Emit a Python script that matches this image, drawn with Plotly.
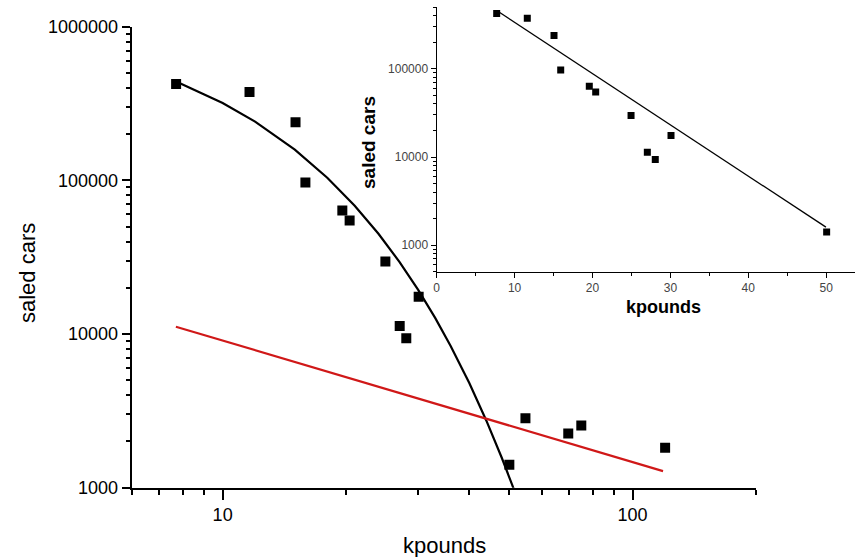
import math
import plotly.graph_objects as go

# ---- data ----
price_k = [7.70, 11.63, 15.06, 15.92, 19.59, 20.41, 24.95, 27.04, 28.06, 30.08, 50.06, 54.8, 69.7, 75.0, 120.1]
saled = [424000, 376000, 239000, 97000, 63700, 54800, 29600, 11300, 9400, 17500, 1410, 2830, 2250, 2540, 1820]

# inset uses the low-price points only
inset_n = 11

# black fitted curve (main, log-log)
curve_x = [7.7, 10, 12, 15, 18, 21, 24, 27, 30, 33, 36, 40, 44, 48, 51, 51.8]
curve_y = [440000, 318900, 241000, 158400, 104100, 68400, 44900, 29500, 19390, 12740, 8370, 4780, 2730, 1560, 1025, 916]

# red fitted line (main, log-log)
red_x = [7.69, 118.7]
red_y = [11160, 1282]

# inset fitted line (lin-log)
inset_line_x = [7.7, 49.97]
inset_line_y = [459700, 1601]

main_x_major = [10, 100]
main_x_minor = [6, 7, 8, 9, 20, 30, 40, 50, 60, 70, 80, 90, 200]
main_y_major = [1000, 10000, 100000, 1000000]
main_y_minor = [m * 10 ** e for e in (3, 4, 5) for m in range(2, 10)]

inset_x_major = [0, 10, 20, 30, 40, 50]
inset_x_minor = [5, 15, 25, 35, 45]
inset_y_major = [1000, 10000, 100000]
inset_y_minor = [m * 10 ** e for e in (2, 3, 4, 5) for m in range(2, 10) if 500 <= m * 10 ** e <= 500000]

W, H = 856, 557
FONT = "Liberation Sans, Arial, sans-serif"

fig = go.Figure()

# main traces
fig.add_trace(go.Scatter(x=curve_x, y=curve_y, mode="lines",
                         line=dict(color="black", width=2.2), xaxis="x", yaxis="y"))
fig.add_trace(go.Scatter(x=red_x, y=red_y, mode="lines",
                         line=dict(color="#d01818", width=2.2), xaxis="x", yaxis="y"))
fig.add_trace(go.Scatter(x=price_k, y=saled, mode="markers",
                         marker=dict(symbol="square", size=10, color="black"),
                         xaxis="x", yaxis="y"))

# inset traces
fig.add_trace(go.Scatter(x=inset_line_x, y=inset_line_y, mode="lines",
                         line=dict(color="black", width=1.3), xaxis="x2", yaxis="y2"))
fig.add_trace(go.Scatter(x=price_k[:inset_n], y=saled[:inset_n], mode="markers",
                         marker=dict(symbol="square", size=7, color="black"),
                         xaxis="x2", yaxis="y2"))

main_dom_x = [131.7 / W, 755.9 / W]
main_dom_y = [1 - 487.7 / H, 1 - 26.7 / H]
ins_dom_x = [436.7 / W, 855.0 / W]
ins_dom_y = [1 - 271.7 / H, 1 - 7.3 / H]

axis_common = dict(showgrid=False, zeroline=False, showline=True, linecolor="black",
                   ticks="outside", tickcolor="black", automargin=False)

fig.update_layout(
    width=W, height=H,
    margin=dict(l=0, r=0, t=0, b=0, pad=0, autoexpand=False),
    paper_bgcolor="white", plot_bgcolor="white",
    showlegend=False,
    xaxis=dict(**axis_common, type="log", domain=main_dom_x, anchor="y",
               range=[math.log10(6), math.log10(200)],
               linewidth=2, tickwidth=1.5, ticklen=10,
               tickmode="array", tickvals=main_x_major, ticktext=[str(v) for v in main_x_major],
               tickfont=dict(family=FONT, size=18, color="black"),
               minor=dict(tickmode="array", tickvals=main_x_minor, ticks="outside",
                          ticklen=5, tickwidth=1.5, tickcolor="black", showgrid=False)),
    yaxis=dict(**axis_common, type="log", domain=main_dom_y, anchor="x",
               range=[3, 6],
               linewidth=2, tickwidth=1.5, ticklen=8,
               tickmode="array", tickvals=main_y_major, ticktext=[str(v) for v in main_y_major],
               tickfont=dict(family=FONT, size=18, color="black"),
               minor=dict(tickmode="array", tickvals=main_y_minor, ticks="outside",
                          ticklen=4, tickwidth=1.5, tickcolor="black", showgrid=False)),
    xaxis2=dict(**axis_common, type="linear", domain=ins_dom_x, anchor="y2",
                range=[0, 53.7],
                linewidth=1.3, tickwidth=1, ticklen=5,
                tickmode="array", tickvals=inset_x_major, ticktext=[str(v) for v in inset_x_major],
                tickfont=dict(family=FONT, size=12, color="#444"),
                minor=dict(tickmode="array", tickvals=inset_x_minor, ticks="outside",
                           ticklen=3, tickwidth=1, tickcolor="black", showgrid=False)),
    yaxis2=dict(**axis_common, type="log", domain=ins_dom_y, anchor="x2",
                range=[math.log10(500), math.log10(500000)],
                linewidth=1.3, tickwidth=1, ticklen=5,
                tickmode="array", tickvals=inset_y_major, ticktext=[str(v) for v in inset_y_major],
                tickfont=dict(family=FONT, size=12, color="#444"),
                minor=dict(tickmode="array", tickvals=inset_y_minor, ticks="outside",
                           ticklen=3, tickwidth=1, tickcolor="black", showgrid=False)),
    annotations=[
        dict(text="kpounds", x=444 / W, y=1 - 545 / H, xref="paper", yref="paper",
             showarrow=False, font=dict(family=FONT, size=22, color="black"),
             xanchor="center", yanchor="middle"),
        dict(text="saled cars", x=27 / W, y=1 - 273 / H, xref="paper", yref="paper",
             showarrow=False, textangle=-90, font=dict(family=FONT, size=22, color="black"),
             xanchor="center", yanchor="middle"),
        dict(text="<b>kpounds</b>", x=663 / W, y=1 - 307 / H, xref="paper", yref="paper",
             showarrow=False, font=dict(family=FONT, size=18, color="black"),
             xanchor="center", yanchor="middle"),
        dict(text="<b>saled cars</b>", x=368 / W, y=1 - 143 / H, xref="paper", yref="paper",
             showarrow=False, textangle=-90, font=dict(family=FONT, size=19, color="black"),
             xanchor="center", yanchor="middle"),
    ],
)

fig.write_html("out.html")
